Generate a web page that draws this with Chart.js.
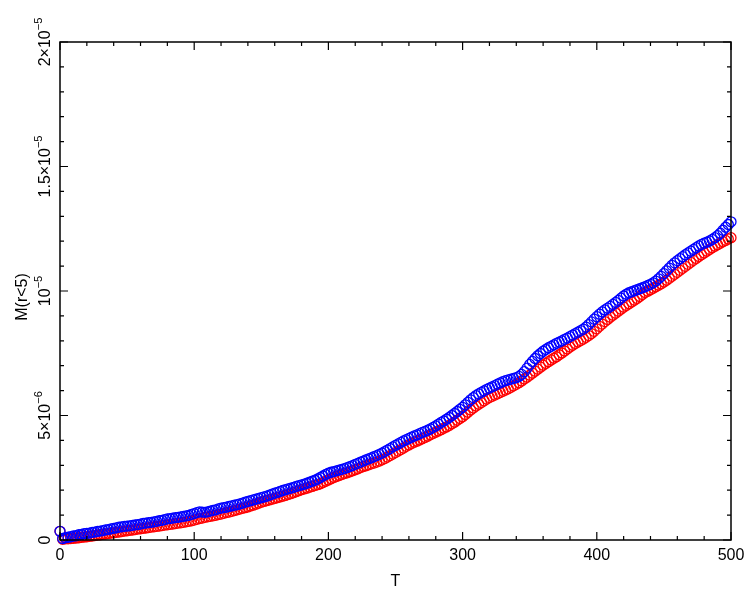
<!DOCTYPE html>
<html><head><meta charset="utf-8">
<script src="https://cdn.jsdelivr.net/npm/chart.js@4/dist/chart.umd.min.js"></script>
<style>html,body{margin:0;padding:0;background:#fff}#wrap{width:753px;height:598px}</style>
</head><body><div id="wrap"><canvas id="c" width="753" height="598"></canvas></div>
<script>
// Time values T
const T = [0,2,4,6,8,10,12,14,16,18,20,22,24,26,28,30,32,34,36,38,40,42,44,46,48,
  50,52,54,56,58,60,62,64,66,68,70,72,74,76,78,80,82,84,86,88,90,92,94,96,98,
  100,102,104,106,108,110,112,114,116,118,120,122,124,126,128,130,132,134,136,138,140,142,144,146,148,
  150,152,154,156,158,160,162,164,166,168,170,172,174,176,178,180,182,184,186,188,190,192,194,196,198,
  200,202,204,206,208,210,212,214,216,218,220,222,224,226,228,230,232,234,236,238,240,242,244,246,248,
  250,252,254,256,258,260,262,264,266,268,270,272,274,276,278,280,282,284,286,288,290,292,294,296,298,
  300,302,304,306,308,310,312,314,316,318,320,322,324,326,328,330,332,334,336,338,340,342,344,346,348,
  350,352,354,356,358,360,362,364,366,368,370,372,374,376,378,380,382,384,386,388,390,392,394,396,398,
  400,402,404,406,408,410,412,414,416,418,420,422,424,426,428,430,432,434,436,438,440,442,444,446,448,
  450,452,454,456,458,460,462,464,466,468,470,472,474,476,478,480,482,484,486,488,490,492,494,496,498,500];
// M(r<5) in units of 1e-6 (blue series)
const massBlue = [0.35,0.06,0.09,0.11,0.13,0.16,0.17,0.21,0.22,0.26,0.27,0.28,0.31,0.32,0.35,0.36,0.38,0.41,0.42,0.45,0.47,0.49,0.52,0.53,0.55,
  0.56,0.57,0.59,0.61,0.62,0.64,0.67,0.68,0.70,0.71,0.73,0.75,0.78,0.79,0.82,0.85,0.86,0.88,0.90,0.91,0.93,0.95,0.97,0.99,1.03,
  1.06,1.10,1.13,1.12,1.11,1.13,1.16,1.19,1.21,1.25,1.28,1.30,1.32,1.35,1.37,1.40,1.42,1.45,1.48,1.52,1.55,1.58,1.61,1.64,1.67,
  1.70,1.73,1.76,1.80,1.84,1.88,1.91,1.95,1.99,2.02,2.05,2.08,2.11,2.15,2.18,2.21,2.24,2.28,2.32,2.36,2.40,2.45,2.51,2.57,2.63,
  2.68,2.72,2.75,2.78,2.81,2.84,2.87,2.91,2.95,2.99,3.04,3.08,3.13,3.17,3.22,3.26,3.30,3.35,3.39,3.44,3.49,3.55,3.61,3.67,3.74,
  3.80,3.86,3.92,3.98,4.03,4.08,4.13,4.18,4.22,4.27,4.32,4.36,4.41,4.46,4.52,4.58,4.65,4.72,4.78,4.85,4.92,5.00,5.08,5.16,5.25,
  5.33,5.43,5.53,5.63,5.72,5.80,5.87,5.93,5.99,6.05,6.10,6.15,6.20,6.26,6.31,6.36,6.40,6.43,6.46,6.49,6.52,6.57,6.65,6.76,6.90,
  7.05,7.17,7.29,7.40,7.49,7.58,7.65,7.72,7.78,7.84,7.90,7.95,8.00,8.06,8.11,8.17,8.23,8.29,8.35,8.41,8.47,8.55,8.65,8.76,8.87,
  8.97,9.07,9.16,9.24,9.31,9.38,9.46,9.54,9.62,9.71,9.80,9.87,9.93,9.97,10.01,10.05,10.09,10.13,10.17,10.22,10.27,10.33,10.40,10.49,10.59,
  10.70,10.81,10.92,11.03,11.13,11.22,11.30,11.38,11.46,11.53,11.60,11.67,11.74,11.81,11.87,11.92,11.96,12.01,12.07,12.14,12.22,12.32,12.44,12.56,12.67,12.78];
// M(r<5) in units of 1e-6 (red series)
const massRed = [0.35,0.03,0.05,0.05,0.06,0.07,0.08,0.09,0.11,0.12,0.13,0.15,0.16,0.18,0.20,0.21,0.23,0.24,0.26,0.28,0.29,0.31,0.32,0.34,0.36,
  0.37,0.39,0.40,0.42,0.44,0.45,0.47,0.48,0.50,0.52,0.53,0.55,0.56,0.58,0.60,0.61,0.63,0.64,0.66,0.68,0.69,0.71,0.73,0.75,0.77,
  0.80,0.83,0.86,0.88,0.91,0.93,0.95,0.97,0.99,1.02,1.04,1.07,1.10,1.12,1.15,1.18,1.21,1.24,1.27,1.30,1.33,1.37,1.40,1.44,1.48,
  1.52,1.55,1.58,1.61,1.64,1.67,1.70,1.73,1.76,1.79,1.83,1.86,1.90,1.94,1.98,2.02,2.05,2.08,2.12,2.15,2.19,2.22,2.26,2.31,2.36,
  2.41,2.46,2.51,2.55,2.59,2.63,2.67,2.70,2.74,2.78,2.82,2.86,2.91,2.95,2.98,3.02,3.06,3.09,3.13,3.17,3.22,3.27,3.33,3.39,3.45,
  3.51,3.57,3.63,3.69,3.76,3.82,3.88,3.93,3.97,4.02,4.07,4.12,4.17,4.23,4.28,4.33,4.38,4.43,4.49,4.54,4.60,4.67,4.73,4.81,4.88,
  4.95,5.04,5.13,5.22,5.30,5.38,5.45,5.52,5.59,5.66,5.72,5.77,5.82,5.87,5.92,5.97,6.02,6.07,6.13,6.19,6.25,6.32,6.39,6.47,6.54,
  6.62,6.70,6.78,6.86,6.94,7.02,7.09,7.16,7.23,7.30,7.36,7.44,7.51,7.59,7.67,7.75,7.82,7.89,7.95,8.01,8.07,8.14,8.21,8.29,8.38,
  8.48,8.58,8.67,8.77,8.86,8.95,9.03,9.11,9.19,9.27,9.35,9.42,9.49,9.56,9.63,9.70,9.78,9.86,9.94,9.99,10.05,10.11,10.17,10.23,10.29,
  10.36,10.43,10.51,10.59,10.67,10.75,10.83,10.91,10.99,11.07,11.15,11.23,11.31,11.39,11.46,11.53,11.60,11.67,11.74,11.80,11.86,11.92,11.98,12.03,12.09,12.14];

const xTickValues = [0,100,200,300,400,500];
const xTickLabels = ["0","100","200","300","400","500"];
const xMinorStep = 20;
const yTickValues = [0,5,10,15,20];          // units of 1e-6
const yTickMain = ["0","5×10","10","1.5×10","2×10"];
const yTickExp  = ["","−6","−5","−5","−5"];
const yMinorStep = 1;
const xTitle = "T";
const yTitle = "M(r<5)";

const FONT = '"Liberation Sans", Arial, Helvetica, sans-serif';

const framePlugin = {
  id: 'frame',
  afterDraw(chart) {
    const ctx = chart.ctx, a = chart.chartArea;
    const xs = chart.scales.x, ys = chart.scales.y;
    ctx.save();
    ctx.strokeStyle = '#000';
    ctx.lineWidth = 1.5;
    ctx.strokeRect(a.left, a.top, a.right - a.left, a.bottom - a.top);
    ctx.lineWidth = 1.2;
    ctx.beginPath();
    for (let v = xs.min; v <= xs.max + 1e-9; v += xMinorStep) {
      const px = xs.getPixelForValue(v);
      const len = (Math.abs(v % 100) < 1e-9) ? 8 : 4;
      ctx.moveTo(px, a.bottom); ctx.lineTo(px, a.bottom - len);
      ctx.moveTo(px, a.top); ctx.lineTo(px, a.top + len);
    }
    for (let v = ys.min; v <= ys.max + 1e-9; v += yMinorStep) {
      const py = ys.getPixelForValue(v);
      const len = (Math.abs(v % 5) < 1e-9) ? 8 : 4;
      ctx.moveTo(a.left, py); ctx.lineTo(a.left + len, py);
      ctx.moveTo(a.right, py); ctx.lineTo(a.right - len, py);
    }
    ctx.stroke();

    ctx.fillStyle = '#000';
    ctx.font = '16px ' + FONT;
    ctx.textAlign = 'center';
    ctx.textBaseline = 'alphabetic';
    xTickValues.forEach((v, i) => {
      ctx.fillText(xTickLabels[i], xs.getPixelForValue(v), a.bottom + 19.5);
    });
    ctx.fillText(xTitle, (a.left + a.right) / 2, 586);

    yTickValues.forEach((v, i) => {
      const py = ys.getPixelForValue(v);
      ctx.save();
      ctx.translate(49.5, py);
      ctx.rotate(-Math.PI / 2);
      ctx.textAlign = 'left';
      ctx.font = '16px ' + FONT;
      const w1 = ctx.measureText(yTickMain[i]).width;
      ctx.font = '11px ' + FONT;
      const w2 = yTickExp[i] ? ctx.measureText(yTickExp[i]).width : 0;
      const start = -(w1 + w2) / 2;
      ctx.font = '16px ' + FONT;
      ctx.fillText(yTickMain[i], start, 0);
      if (yTickExp[i]) {
        ctx.font = '11px ' + FONT;
        ctx.fillText(yTickExp[i], start + w1, -7.5);
      }
      ctx.restore();
    });

    ctx.save();
    ctx.translate(27, 297);
    ctx.rotate(-Math.PI / 2);
    ctx.textAlign = 'center';
    ctx.font = '16px ' + FONT;
    ctx.fillText(yTitle, 0, 0);
    ctx.restore();
    ctx.restore();
  }
};

const toPts = arr => T.map((t, i) => ({x: t, y: arr[i]}));

new Chart(document.getElementById('c'), {
  type: 'scatter',
  data: {
    datasets: [
      { label: 'blue', data: toPts(massBlue), borderColor: '#0000ff', backgroundColor: 'rgba(0,0,0,0)',
        pointRadius: 5, pointBorderWidth: 1.3, pointStyle: 'circle', showLine: false, clip: false, order: 0 },
      { label: 'red', data: toPts(massRed), borderColor: '#ff0000', backgroundColor: 'rgba(0,0,0,0)',
        pointRadius: 5, pointBorderWidth: 1.3, pointStyle: 'circle', showLine: false, clip: false, order: 1 }
    ]
  },
  options: {
    responsive: false,
    animation: false,
    devicePixelRatio: 1,
    layout: { padding: { top: 42, right: 22, left: 0, bottom: 0 } },
    plugins: { legend: { display: false }, tooltip: { enabled: false } },
    scales: {
      x: { type: 'linear', min: 0, max: 500,
           grid: { display: false }, border: { display: false }, ticks: { display: false },
           afterFit: s => { s.height = 58; } },
      y: { type: 'linear', min: 0, max: 20,
           grid: { display: false }, border: { display: false }, ticks: { display: false },
           afterFit: s => { s.width = 60; } }
    }
  },
  plugins: [framePlugin]
});
</script></body></html>
